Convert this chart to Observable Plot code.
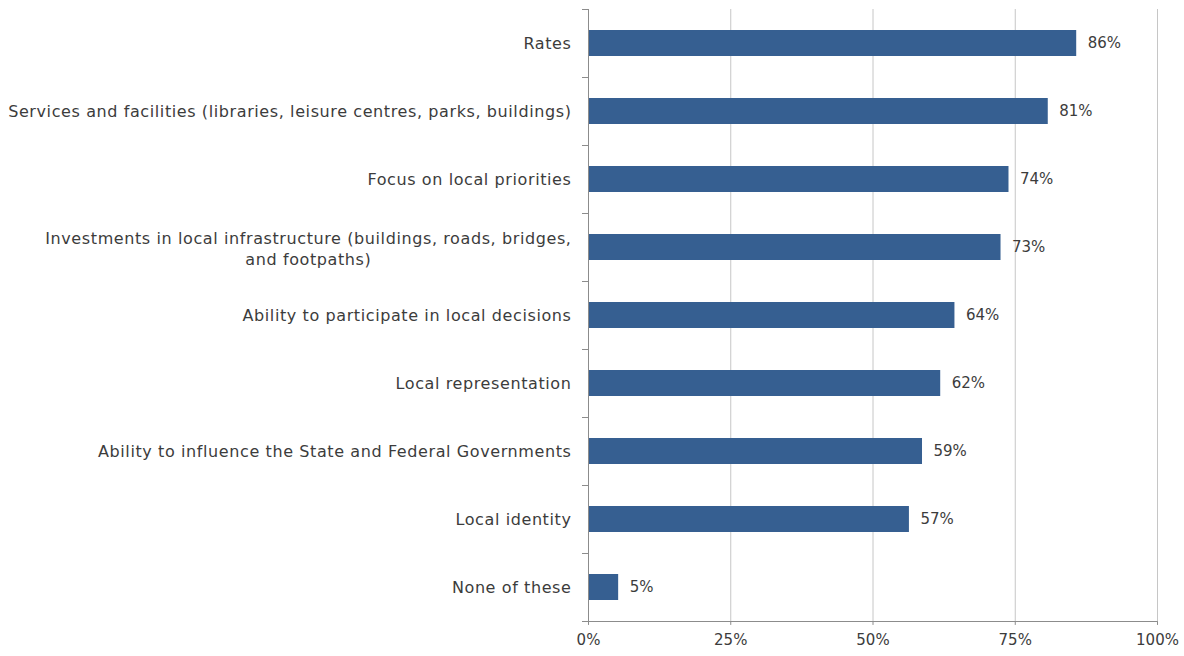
<!DOCTYPE html>
<html>
<head>
<meta charset="utf-8">
<script src="https://cdn.jsdelivr.net/npm/d3@7"></script>
<script src="https://cdn.jsdelivr.net/npm/@observablehq/plot@0.6"></script>
<style>
  html, body { margin: 0; padding: 0; background: #fff; }
  #chart { width: 1184px; height: 656px; }
  .ylab text { letter-spacing: 0.6px; }
</style>
</head>
<body>
<div id="chart"></div>
<script>
const categories = [
  "Rates",
  "Services and facilities (libraries, leisure centres, parks, buildings)",
  "Focus on local priorities",
  "Investments in local infrastructure (buildings, roads, bridges,\nand footpaths)",
  "Ability to participate in local decisions",
  "Local representation",
  "Ability to influence the State and Federal Governments",
  "Local identity",
  "None of these"
];
const values = [0.858, 0.808, 0.739, 0.725, 0.644, 0.619, 0.587, 0.564, 0.053];
const valueLabels = ["86%", "81%", "74%", "73%", "64%", "62%", "59%", "57%", "5%"];
const xTicks = [0, 0.25, 0.5, 0.75, 1];

const data = categories.map((c, i) => ({cat: c, value: values[i], label: valueLabels[i]}));

const W = 1184, H = 656;
const mL = 588, mR = 27, mT = 9, mB = 35;
const plotW = W - mL - mR, plotH = H - mT - mB;
const pIn = 0.615, pOut = 0.3075;
const step = plotH / (categories.length - pIn + 2 * pOut);
const bw = step * (1 - pIn);
const tickLen = 6 / plotW;
const fontFamily = "'DejaVu Sans', sans-serif";
const fs = 15, yfs = 16, ls = 0.6;
const textColor = "#3c3c3c";
const axisColor = "#8c8c8c";
const pad = 17;
const lastCat = categories[categories.length - 1];

const ctx = document.createElement("canvas").getContext("2d");
ctx.font = `${yfs}px DejaVu Sans`;
const measure = s => ctx.measureText(s).width + s.length * ls;

const single = data.filter(d => !d.cat.includes("\n"));
const multi = data.filter(d => d.cat.includes("\n"));
const multiWidth = multi.length ? Math.max(...multi[0].cat.split("\n").map(measure)) : 0;

const chart = Plot.plot({
  width: W, height: H,
  marginLeft: mL, marginRight: mR, marginTop: mT, marginBottom: mB,
  style: {fontFamily, fontSize: fs + "px", color: textColor, background: "#fff"},
  x: {domain: [0, 1], axis: null},
  y: {domain: categories, paddingInner: pIn, paddingOuter: pOut, axis: null},
  marks: [
    Plot.ruleX(xTicks.slice(1), {stroke: "#c6c6c6", strokeWidth: 1}),
    Plot.barX(data, {x: "value", y: "cat", fill: "#365f91"}),
    Plot.ruleX([0], {stroke: axisColor, strokeWidth: 1}),
    Plot.ruleY(categories, {y: d => d, x1: -tickLen, x2: 0, dy: -step / 2, stroke: axisColor}),
    Plot.ruleY([lastCat], {y: d => d, x1: -tickLen, x2: 1, dy: step / 2, stroke: axisColor}),
    Plot.tickX(xTicks, {x: d => d, y: () => lastCat, dy: step / 2, insetTop: bw / 2, insetBottom: bw / 2 - 4, stroke: axisColor}),
    Plot.text(data, {x: "value", y: "cat", text: "label", textAnchor: "start", dx: 11, fill: textColor, fontSize: fs}),
    Plot.text(single, {x: 0, y: "cat", text: "cat", textAnchor: "end", dx: -pad, fill: textColor, fontSize: yfs, className: "ylab"}),
    Plot.text(multi, {x: 0, y: "cat", text: "cat", textAnchor: "middle", dx: -(pad + multiWidth / 2), lineHeight: 1.3, fill: textColor, fontSize: yfs, className: "ylab"}),
    Plot.text(xTicks, {x: d => d, y: () => lastCat, text: d3.format(".0%"), dy: step / 2 + 19, fill: textColor, fontSize: fs})
  ]
});
document.getElementById("chart").appendChild(chart);
</script>
</body>
</html>
